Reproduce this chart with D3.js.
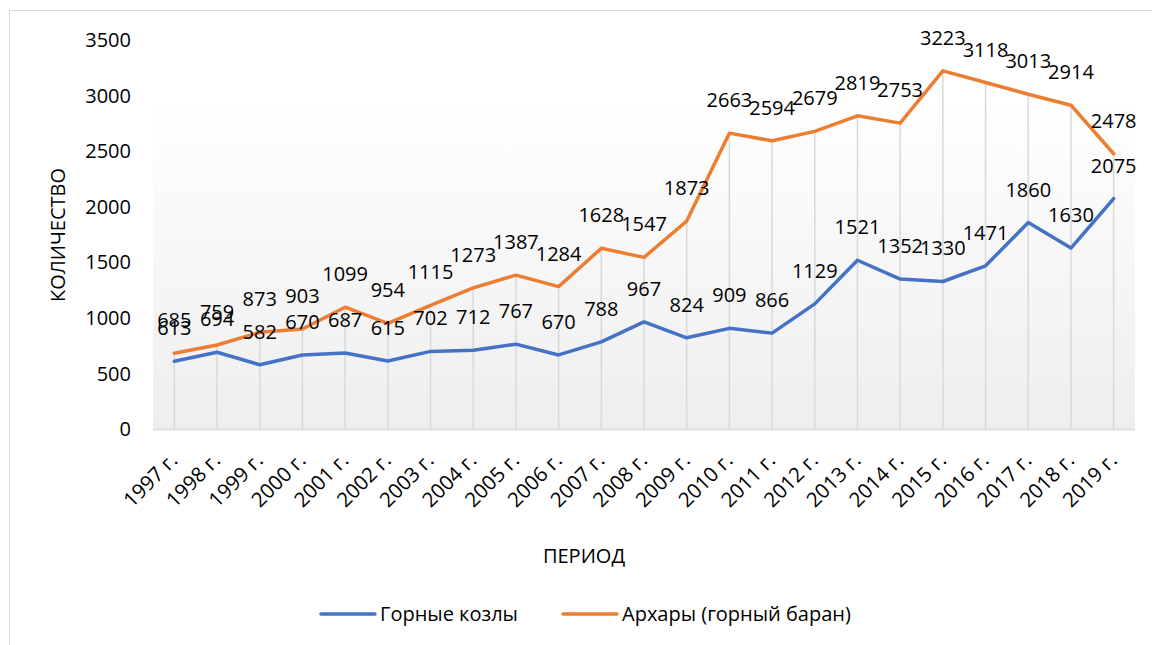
<!DOCTYPE html>
<html lang="ru">

<head>
  <meta charset="UTF-8">
  <script src="https://d3js.org/d3.v7.min.js"></script>
  <style>
    body {
      margin: 0;
      padding: 0;
      background: #fff;
      overflow: hidden;
      font-family: "Open Sans", "Noto Sans", sans-serif;
    }

    text {
      fill: #000;
    }
  </style>
</head>

<body>
  <script>
    // Data
    const years = ['1997 г.', '1998 г.', '1999 г.', '2000 г.', '2001 г.', '2002 г.', '2003 г.', '2004 г.',
      '2005 г.', '2006 г.', '2007 г.', '2008 г.', '2009 г.', '2010 г.', '2011 г.', '2012 г.', '2013 г.',
      '2014 г.', '2015 г.', '2016 г.', '2017 г.', '2018 г.', '2019 г.'];
    const goats = [613, 694, 582, 670, 687, 615, 702, 712, 767, 670, 788, 967, 824, 909, 866, 1129, 1521,
      1352, 1330, 1471, 1860, 1630, 2075];
    const argali = [685, 759, 873, 903, 1099, 954, 1115, 1273, 1387, 1284, 1628, 1547, 1873, 2663, 2594,
      2679, 2819, 2753, 3223, 3118, 3013, 2914, 2478];
    const yTicks = [0, 500, 1000, 1500, 2000, 2500, 3000, 3500];
    const seriesNames = ['Горные козлы', 'Архары (горный баран)'];
    const colors = ['#4472C4', '#ED7D31'];

    const width = 1152, height = 645;
    const plot = { left: 153, right: 1135, top: 40, bottom: 429.5 };

    const svg = d3.select('body').append('svg')
      .attr('width', width)
      .attr('height', height);

    // outer chart border
    svg.append('rect')
      .attr('x', 9.5).attr('y', 10.5)
      .attr('width', width).attr('height', height)
      .attr('fill', 'none')
      .attr('stroke', '#d9d9d9');

    const x = d3.scalePoint()
      .domain(years)
      .range([plot.left, plot.right])
      .padding(0.5);

    const y = d3.scaleLinear()
      .domain([0, 3500])
      .range([plot.bottom, plot.top]);

    // plot area gradient
    const grad = svg.append('defs').append('linearGradient')
      .attr('id', 'bg')
      .attr('x1', 0).attr('y1', 0).attr('x2', 0).attr('y2', 1);
    grad.append('stop').attr('offset', '0%').attr('stop-color', '#ffffff');
    grad.append('stop').attr('offset', '15%').attr('stop-color', '#ffffff');
    grad.append('stop').attr('offset', '100%').attr('stop-color', '#eeeeee');

    svg.append('rect')
      .attr('x', plot.left).attr('y', plot.top)
      .attr('width', plot.right - plot.left)
      .attr('height', plot.bottom - plot.top)
      .attr('fill', 'url(#bg)');

    // drop lines from the highest point down to the axis
    svg.append('g')
      .selectAll('line')
      .data(years)
      .enter().append('line')
      .attr('x1', d => x(d)).attr('x2', d => x(d))
      .attr('y1', y(0))
      .attr('y2', (d, i) => y(Math.max(goats[i], argali[i])))
      .attr('stroke', '#d9d9d9')
      .attr('stroke-width', 1.5);

    // x axis line
    svg.append('line')
      .attr('x1', plot.left).attr('x2', plot.right)
      .attr('y1', y(0)).attr('y2', y(0))
      .attr('stroke', '#d9d9d9')
      .attr('stroke-width', 1.5);

    // y axis (labels only)
    const yAxis = svg.append('g')
      .attr('transform', 'translate(131,0)')
      .call(d3.axisLeft(y).tickValues(yTicks).tickFormat(d3.format('d')).tickSize(0).tickPadding(0));
    yAxis.select('.domain').remove();
    yAxis.selectAll('text')
      .attr('font-family', '"Open Sans", sans-serif')
      .attr('font-size', 20)
      .attr('fill', '#000');

    // x axis labels rotated
    const xAxis = svg.append('g')
      .attr('transform', `translate(0,${y(0)})`)
      .call(d3.axisBottom(x).tickSize(0).tickPadding(0));
    xAxis.select('.domain').remove();
    xAxis.selectAll('text')
      .attr('font-family', '"Open Sans", sans-serif')
      .attr('font-size', 20.5)
      .attr('fill', '#000')
      .attr('text-anchor', 'end')
      .attr('dy', '0.35em')
      .attr('transform', 'translate(-1,27) rotate(-45)');

    // lines
    const line = d3.line()
      .x((d, i) => x(years[i]))
      .y(d => y(d));

    [goats, argali].forEach((vals, k) => {
      svg.append('path')
        .datum(vals)
        .attr('d', line)
        .attr('fill', 'none')
        .attr('stroke', colors[k])
        .attr('stroke-width', 3.5)
        .attr('stroke-linejoin', 'round')
        .attr('stroke-linecap', 'round');
    });

    // data labels above points
    [goats, argali].forEach((vals, k) => {
      svg.append('g')
        .selectAll('text')
        .data(vals)
        .enter().append('text')
        .attr('x', (d, i) => x(years[i]))
        .attr('y', d => y(d) - 33)
        .attr('dy', '0.35em')
        .attr('text-anchor', 'middle')
        .attr('font-size', 20)
        .text(d => d);
    });

    // axis titles
    svg.append('text')
      .attr('transform', 'translate(58,235) rotate(-90)')
      .attr('text-anchor', 'middle')
      .attr('dy', '0.35em')
      .attr('font-size', 20)
      .text('КОЛИЧЕСТВО');

    svg.append('text')
      .attr('x', 584).attr('y', 556)
      .attr('text-anchor', 'middle')
      .attr('dy', '0.35em')
      .attr('font-size', 20)
      .text('ПЕРИОД');

    // legend
    const legendX = [321, 563];
    const legend = svg.append('g')
      .selectAll('g')
      .data(seriesNames)
      .enter().append('g')
      .attr('transform', (d, i) => `translate(${legendX[i]},614)`);

    legend.append('line')
      .attr('x1', 0).attr('x2', 54)
      .attr('stroke', (d, i) => colors[i])
      .attr('stroke-width', 3.5)
      .attr('stroke-linecap', 'round');

    legend.append('text')
      .attr('x', 59)
      .attr('dy', '0.35em')
      .attr('font-size', 20)
      .text(d => d);
  </script>
</body>

</html>
